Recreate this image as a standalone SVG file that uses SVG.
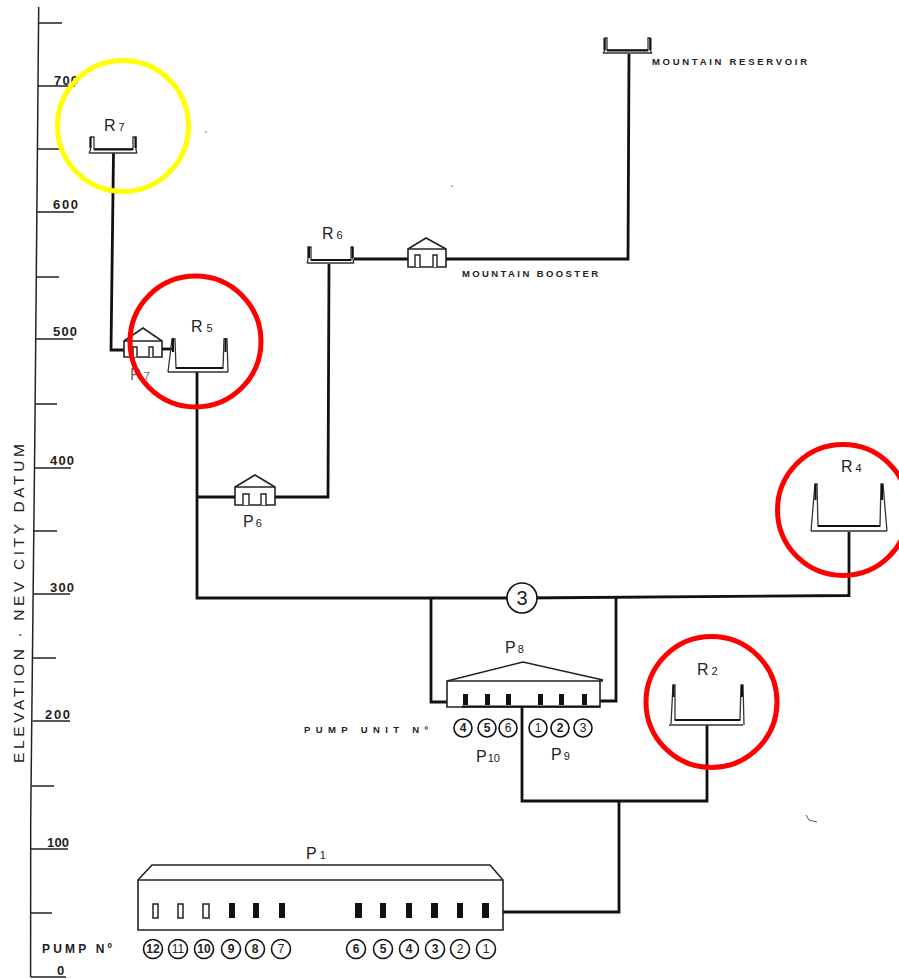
<svg xmlns="http://www.w3.org/2000/svg" width="899" height="979" viewBox="0 0 899 979">
<style>
text{font-family:"Liberation Sans",Arial,sans-serif;fill:#222}
.pipe{fill:none;stroke:#111;stroke-width:2.8}
.tick{fill:none;stroke:#222;stroke-width:1.5}
.num{font-size:13px;font-weight:bold}
.lbl{font-size:16px}
.sub{font-size:11px}
.small{font-size:9.500px;font-weight:bold}
.bld{fill:#fff;stroke:#222;stroke-width:1.6}
.tank{fill:none;stroke:#333;stroke-width:1.3}
.cap{fill:none;stroke:#111;stroke-width:2}
.door{fill:#fff;stroke:#222;stroke-width:1.4}
.pc{fill:#fff;stroke:#111;stroke-width:1.6}
.pn{font-size:12px;text-anchor:middle}
.b{font-weight:bold}
.win{fill:#111}
.hollow{fill:#fff;stroke:#222;stroke-width:1.5}
.ring{fill:none;stroke-width:5}
.speck{fill:#555}
</style>
<rect width="899" height="979" fill="#fff"/>
<g id="axis">
<path class="tick" d="M38.7 7L35 420L30.7 820L30.6 977"/>
<path class="tick" d="M38.5 23H62M38 86H75M37.5 149H60M37 212H74M36.5 277H59M36 339H73M35 404H57M34.5 468H71M34 531H57M33.5 594H70M33 658H56M32.5 721H70M31.5 786H54M31 849H68M30.6 913H52M30.6 977H66"/>
<text class="num" x="54" y="85" textLength="24">700</text>
<text class="num" x="53" y="209" textLength="25">600</text>
<text class="num" x="53" y="336" textLength="24">500</text>
<text class="num" x="50" y="465" textLength="24">400</text>
<text class="num" x="50" y="592" textLength="24">300</text>
<text class="num" x="45" y="719" textLength="25">200</text>
<text class="num" x="47" y="847" textLength="22">100</text>
<text class="num" x="57" y="975">0</text>
<text transform="translate(24 763) rotate(-90)" font-size="15.500" textLength="319">ELEVATION · NEV CITY DATUM</text>
</g>
<g id="connectors">
<path class="pipe" d="M113.5 153L111 350H127"/>
<path class="pipe" d="M162 349H173"/>
<path class="pipe" d="M197 372V598L522 598L849 595.5V532"/>
<path class="pipe" d="M197 497H236M275 497H328L329 264"/>
<path class="pipe" d="M354 259H408M446 259H628L629 54"/>
<path class="pipe" d="M431 598V702H448M616 597V701H600"/>
<path class="pipe" d="M522 707V801H707V725M619 801V912H503"/>
</g>
<g id="mountain-reservoir">
<path class="tank" d="M603 53H652M603 53L605 50V38H607V50H648V38H650V50L652 53"/>
<path class="cap" d="M604.500 38V50M650.500 38V50M607 50.500H648"/>
<text class="small" x="652" y="65" textLength="155">MOUNTAIN RESERVOIR</text>
</g>
<g id="R7">
<path class="tank" d="M89 153H137M89 153L90.500 150V137H94V149H133V137H136V150L137 153"/>
<path class="cap" d="M90.500 137V148M135.500 137V148M94 149.500H133"/>
<text class="lbl" x="104" y="131">R<tspan class="sub" dx="3">7</tspan></text>
</g>
<g id="R5">
<path class="tank" d="M168 372H228M168 372L172 339H175L176 368H223L224 339H227L228 372"/>
<path class="cap" d="M173 338V352M225.500 338V352M176 368H223"/>
<text class="lbl" x="191" y="332">R<tspan class="sub" dx="4">5</tspan></text>
</g>
<g id="R6">
<path class="tank" d="M307 263H354M307 263L308 260V247H311V260H351V247H353V260L354 263"/>
<path class="cap" d="M309 247V258M352.500 247V258M311 260H351"/>
<text class="lbl" x="322" y="239">R<tspan class="sub" dx="3">6</tspan></text>
</g>
<g id="R4">
<path class="tank" d="M811 531H887M811 531L815 484H817L818 526H880L881 484H883L887 531"/>
<path class="cap" d="M815.500 484V500M882 484V500M818 526H880"/>
<text class="lbl" x="841" y="472">R<tspan class="sub" dx="3">4</tspan></text>
</g>
<g id="R2">
<path class="tank" d="M669 725H743M671 724L673 685H675L675 720H740L741 685H743L744 725"/>
<path class="cap" d="M673.500 685V697M742 685V697M675 720H740"/>
<text class="lbl" x="697" y="675">R<tspan class="sub" dx="3">2</tspan></text>
</g>
<g id="P7">
<path class="bld" d="M124 341L143 328L162 341V357H124Z"/>
<path class="tick" d="M124 341H162"/>
<path class="door" d="M133 357V347H137V357M149 357V347H153V357"/>
<text class="lbl" x="130" y="380" fill-opacity="0.7">P<tspan class="sub" dx="3">7</tspan></text>
</g>
<g id="P6">
<path class="bld" d="M235 487L255 475L275 487V505H235Z"/>
<path class="tick" d="M235 487H275"/>
<path class="door" d="M243 505V494H249V505M261 505V494H266V505"/>
<text class="lbl" x="243" y="527">P<tspan class="sub" dx="2">6</tspan></text>
</g>
<g id="mountain-booster">
<path class="bld" d="M408 249L426 238L446 249V267H408Z"/>
<path class="tick" d="M408 249H446"/>
<path class="door" d="M415 267V255H420V267M433 267V255H437V267"/>
<text class="small" x="462" y="277" textLength="136">MOUNTAIN BOOSTER</text>
</g>
<g id="valve-3">
<circle class="pc" cx="522" cy="598" r="15"/>
<text x="522" y="605" font-size="20" text-anchor="middle">3</text>
</g>
<g id="P8">
<path class="bld" d="M447 681L523 662L603 680H600V707H447Z"/>
<path class="tick" d="M447 681H603"/>
<path d="M462 706.500H600" fill="none" stroke="#111" stroke-width="2"/>
<rect class="win" x="463" y="694" width="5" height="11"/>
<rect class="win" x="485" y="694" width="5" height="11"/>
<rect class="win" x="506" y="694" width="5" height="11"/>
<rect class="win" x="538" y="694" width="5" height="11"/>
<rect class="win" x="559" y="694" width="5" height="11"/>
<rect class="win" x="582" y="694" width="5" height="11"/>
<text class="lbl" x="505" y="653">P<tspan class="sub" dx="2">8</tspan></text>
</g>
<g id="pump-units">
<text class="small" x="304" y="733" textLength="124">PUMP UNIT Nº</text>
<circle class="pc" cx="463" cy="728" r="9"/><text class="pn b" x="463" y="732">4</text>
<circle class="pc" cx="487" cy="728" r="9"/><text class="pn b" x="487" y="732">5</text>
<circle class="pc" cx="508" cy="728" r="9"/><text class="pn" x="508" y="732">6</text>
<circle class="pc" cx="538" cy="728" r="9"/><text class="pn" x="538" y="732">1</text>
<circle class="pc" cx="560" cy="728" r="9"/><text class="pn b" x="560" y="732">2</text>
<circle class="pc" cx="583" cy="728" r="9"/><text class="pn" x="583" y="732">3</text>
<text class="lbl" x="476" y="762">P<tspan class="sub" dx="1">10</tspan></text>
<text class="lbl" x="551" y="760">P<tspan class="sub" dx="2">9</tspan></text>
</g>
<g id="P1">
<path class="bld" d="M138 880L152 865H490L503 880V930H138Z"/>
<path class="tick" d="M138 880H503"/>
<rect class="hollow" x="153" y="904" width="5" height="14"/>
<rect class="hollow" x="178" y="904" width="5" height="14"/>
<rect class="hollow" x="203" y="904" width="6" height="14"/>
<rect class="win" x="229" y="903" width="6" height="15"/>
<rect class="win" x="253" y="903" width="6" height="15"/>
<rect class="win" x="279" y="903" width="6" height="15"/>
<rect class="win" x="355" y="903" width="7" height="15"/>
<rect class="win" x="380" y="903" width="6" height="15"/>
<rect class="win" x="406" y="903" width="6" height="15"/>
<rect class="win" x="431" y="903" width="7" height="15"/>
<rect class="win" x="457" y="903" width="6" height="15"/>
<rect class="win" x="482" y="903" width="7" height="15"/>
<text class="lbl" x="306" y="859">P<tspan class="sub" dx="3">1</tspan></text>
</g>
<g id="pumps">
<text x="42" y="953" font-size="12" font-weight="bold" textLength="70">PUMP Nº</text>
<circle class="pc" cx="153" cy="949" r="9.500"/><text class="pn b" x="153" y="953" font-size="11">12</text>
<circle class="pc" cx="178" cy="949" r="9.500"/><text class="pn" x="178" y="953">11</text>
<circle class="pc" cx="204" cy="949" r="9.500"/><text class="pn b" x="204" y="953">10</text>
<circle class="pc" cx="231" cy="949" r="9.500"/><text class="pn b" x="231" y="953">9</text>
<circle class="pc" cx="255" cy="949" r="9.500"/><text class="pn b" x="255" y="953">8</text>
<circle class="pc" cx="281" cy="949" r="9.500"/><text class="pn" x="281" y="953">7</text>
<circle class="pc" cx="356" cy="949" r="9.500"/><text class="pn b" x="356" y="953">6</text>
<circle class="pc" cx="383" cy="949" r="9.500"/><text class="pn b" x="383" y="953">5</text>
<circle class="pc" cx="409" cy="949" r="9.500"/><text class="pn b" x="409" y="953">4</text>
<circle class="pc" cx="435" cy="949" r="9.500"/><text class="pn b" x="435" y="953">3</text>
<circle class="pc" cx="460" cy="949" r="9.500"/><text class="pn" x="460" y="953">2</text>
<circle class="pc" cx="486" cy="949" r="9.500"/><text class="pn" x="486" y="953">1</text>
</g>
<g id="specks">
<circle class="speck" cx="206" cy="132" r="0.800"/>
<circle class="speck" cx="452" cy="186" r="0.800"/>
<path d="M806 815L809 820L817 822" fill="none" stroke="#555" stroke-width="1"/>
</g>
<g id="highlights">
<circle class="ring" cx="123" cy="126" r="65.500" stroke="#ff0"/>
<circle class="ring" cx="195.500" cy="341.500" r="65.500" stroke="#f00"/>
<circle class="ring" cx="843" cy="510" r="65.500" stroke="#f00"/>
<circle class="ring" cx="711.500" cy="702" r="65.500" stroke="#f00"/>
</g>
</svg>
